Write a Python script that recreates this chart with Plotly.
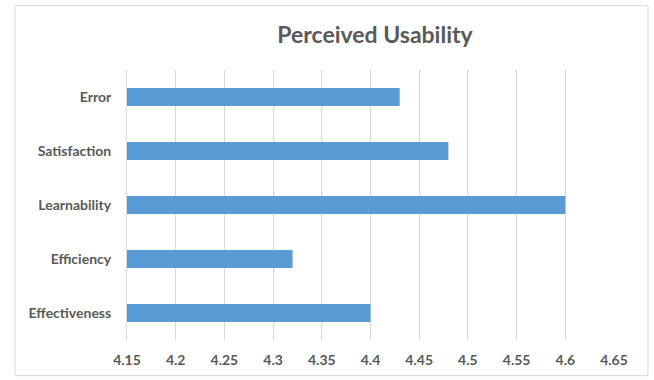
import plotly.graph_objects as go

categories = ["Effectiveness", "Efficiency", "Learnability", "Satisfaction", "Error"]
values = [4.40, 4.32, 4.60, 4.48, 4.43]
x_ticks = [4.15, 4.2, 4.25, 4.3, 4.35, 4.4, 4.45, 4.5, 4.55, 4.6, 4.65]
x_tick_labels = ["4.15", "4.2", "4.25", "4.3", "4.35", "4.4", "4.45", "4.5", "4.55", "4.6", "4.65"]

W, H = 654, 380
L, R, T, B = 127, 40, 70, 37
pw, ph = W - L - R, H - T - B

grey = "#595959"
font = "Lato"

fig = go.Figure(go.Bar(
    x=[v - 4.15 for v in values], base=4.15, y=categories, orientation="h",
    marker=dict(color="#5b9bd5", line=dict(width=0)),
    hoverinfo="skip",
))

def px(x):
    return (x - L) / pw

def py(y):
    return (H - B - y) / ph

fig.update_layout(
    width=W, height=H,
    margin=dict(l=L, r=R, t=T, b=B),
    paper_bgcolor="white", plot_bgcolor="white",
    showlegend=False,
    bargap=0.67,
    title=dict(text="<b>Perceived Usability</b>", x=375 / W, xanchor="center",
               y=1 - 35 / H, yanchor="middle",
               font=dict(family=font, size=23, color=grey)),
    xaxis=dict(range=[4.15, 4.65], tickvals=x_ticks, ticktext=x_tick_labels,
               showgrid=True, gridcolor="#d9d9d9", gridwidth=1, zeroline=False,
               showline=False, ticks="outside", ticklen=7, tickcolor="rgba(0,0,0,0)",
               tickfont=dict(family=font, size=14, color=grey, weight="bold")),
    yaxis=dict(showgrid=False, zeroline=False, showline=True, linecolor="#d9d9d9", linewidth=1,
               ticks="outside", ticklen=12, tickcolor="rgba(0,0,0,0)",
               tickfont=dict(family=font, size=14, color=grey, weight="bold")),
    shapes=[dict(type="rect", xref="paper", yref="paper",
                 x0=px(15), x1=px(648), y0=py(379), y1=py(5),
                 line=dict(color="#d9d9d9", width=1), fillcolor="rgba(0,0,0,0)", layer="below")],
    font=dict(family=font, color=grey),
)

fig.write_html("out.html")
